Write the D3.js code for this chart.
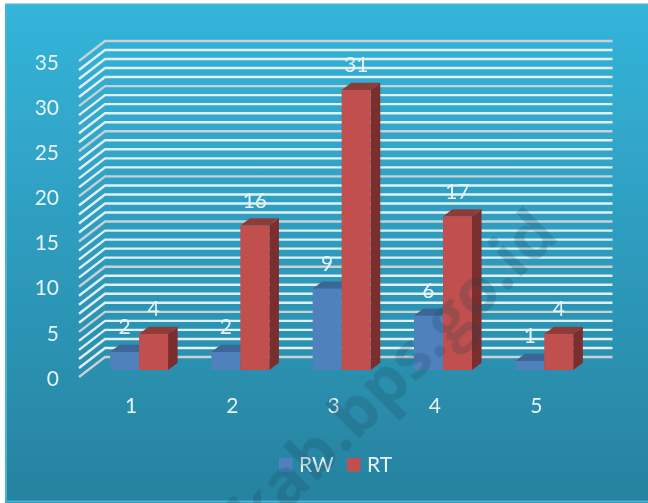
<!DOCTYPE html>
<html>
<head>
<meta charset="utf-8">
<script src="https://cdn.jsdelivr.net/npm/d3@7"></script>
<style>
  html, body { margin: 0; padding: 0; background: #fff; overflow: hidden; }
  text { font-family: Lato, "Open Sans", sans-serif; fill: #e6f4f8; }
</style>
</head>
<body>
<div id="chart"></div>
<script>
// --- Data ---
const categories = ["1", "2", "3", "4", "5"];
const seriesNames = ["RW", "RT"];
const rwValues = [2, 2, 9, 6, 1];
const rtValues = [4, 16, 31, 17, 4];
const yTicks = [0, 5, 10, 15, 20, 25, 30, 35];
const gridValues = d3.range(0, 36);

const width = 648, height = 503;
const depthX = 9.6, depthY = 7.2;      // bar depth
const wallX = 26, wallY = 20;          // side wall of the 3d box

const svg = d3.select("#chart").append("svg")
    .attr("width", width)
    .attr("height", height)
    .style("display", "block");

// Background gradient
const defs = svg.append("defs");
const bg = defs.append("linearGradient")
    .attr("id", "bg")
    .attr("x1", 0).attr("x2", 0).attr("y1", 0).attr("y2", 1);
bg.append("stop").attr("offset", "0%").attr("stop-color", "#34b4da");
bg.append("stop").attr("offset", "100%").attr("stop-color", "#27829f");

// the reference is a slightly soft screenshot
defs.append("filter")
    .attr("id", "soft")
    .append("feGaussianBlur")
    .attr("stdDeviation", 0.45);

const root = svg.append("g").attr("filter", "url(#soft)");

root.append("rect")
    .attr("x", 5).attr("y", 4)
    .attr("width", width - 5).attr("height", height - 4)
    .attr("fill", "url(#bg)");
root.append("rect")
    .attr("x", 6).attr("y", 4.5)
    .attr("width", width).attr("height", height - 6)
    .attr("fill", "none")
    .attr("stroke", "#45b6d6")
    .attr("stroke-width", 2);

// Scales
const x0 = d3.scaleBand()
    .domain(categories)
    .range([88.4, 594.9])
    .paddingInner(0.4275)
    .paddingOuter(0.21375);

const x1 = d3.scaleBand()
    .domain(seriesNames)
    .range([0, x0.bandwidth()]);

const y = d3.scaleLinear()
    .domain([0, 35])
    .range([370, 370 - 35 * 9.03]);

const color = d3.scaleOrdinal().domain(seriesNames).range(["#4f81bd", "#c0504d"]);
const topColor = d3.scaleOrdinal().domain(seriesNames).range(["#3d6595", "#8f3b39"]);
const sideColor = d3.scaleOrdinal().domain(seriesNames).range(["#35567f", "#7a2f2d"]);

// Gridlines, every unit, every fifth one greyer
const gridY = d => y(d) - 13;
const grid = root.append("g").attr("fill", "none").attr("stroke-width", 2.4);
grid.selectAll("path")
    .data(gridValues)
    .enter().append("path")
    .attr("d", d => `M79,${gridY(d) + wallY}l${wallX},${-wallY}H612.5`)
    .attr("stroke", d => d % 5 === 0 ? "#c9d1d3" : "#e3eff3");

// Axes
const yAxis = root.append("g")
    .attr("transform", "translate(62,8.5)")
    .call(d3.axisLeft(y).tickValues(yTicks).tickSize(0));
const xAxis = root.append("g")
    .attr("transform", "translate(-8,395)")
    .call(d3.axisBottom(x0).tickSize(0));
[yAxis, xAxis].forEach(a => {
    a.select(".domain").remove();
    a.selectAll("text")
        .attr("font-size", 21)
        .attr("font-family", "Lato, sans-serif")
        .attr("fill", "#e6f4f8");
});

// Bars
const barData = categories.flatMap((c, i) => [
    { category: c, series: "RW", value: rwValues[i] },
    { category: c, series: "RT", value: rtValues[i] }
]);
const barX = d => x0(d.category) + x1(d.series);
const bars = root.selectAll("g.bar")
    .data(barData)
    .enter().append("g")
    .attr("class", "bar");

bars.append("polygon")
    .attr("fill", d => topColor(d.series))
    .attr("points", d => {
        const l = barX(d), r = l + x1.bandwidth(), t = y(d.value);
        return [[l, t], [l + depthX, t - depthY], [r + depthX, t - depthY], [r, t]].join(" ");
    });
bars.append("polygon")
    .attr("fill", d => sideColor(d.series))
    .attr("points", d => {
        const r = barX(d) + x1.bandwidth(), t = y(d.value), b = y(0);
        return [[r, t], [r + depthX, t - depthY], [r + depthX, b - depthY], [r, b]].join(" ");
    });
bars.append("rect")
    .attr("x", barX)
    .attr("y", d => y(d.value))
    .attr("width", x1.bandwidth())
    .attr("height", d => y(0) - y(d.value))
    .attr("fill", d => color(d.series));

// Value labels
root.append("g").selectAll("text")
    .data(barData)
    .enter().append("text")
    .attr("x", d => barX(d) + x1.bandwidth() / 2)
    .attr("y", d => y(d.value) - 25)
    .attr("dy", "0.35em")
    .attr("text-anchor", "middle")
    .attr("font-size", 21)
    .text(d => d.value);

// Legend
const legendX = { RW: 279, RT: 347 };
const legend = root.selectAll("g.legend")
    .data(seriesNames)
    .enter().append("g")
    .attr("class", "legend")
    .attr("transform", d => `translate(${legendX[d]},458)`);
legend.append("rect")
    .attr("width", 13.5)
    .attr("height", 13.5)
    .attr("fill", d => color(d));
legend.append("text")
    .attr("x", 20)
    .attr("y", 7)
    .attr("dy", "0.35em")
    .attr("font-size", 21)
    .text(d => d);

// Watermark
root.append("text")
    .attr("transform", "translate(257.5,540.5) rotate(-45)")
    .attr("font-size", 65)
    .attr("font-weight", 700)
    .style("font-family", "'Open Sans', sans-serif")
    .style("fill", "#143c50")
    .attr("opacity", 0.2)
    .text("kab.bps.go.id");
</script>
</body>
</html>
